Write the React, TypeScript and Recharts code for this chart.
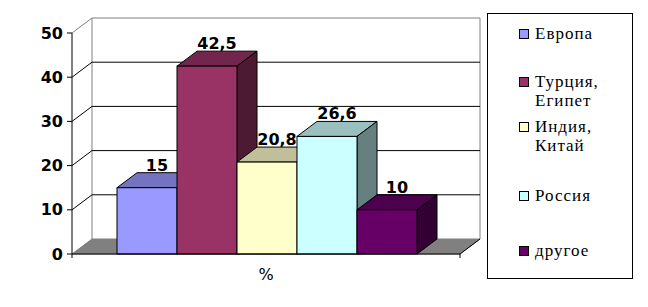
import { BarChart, Bar, XAxis, YAxis, CartesianGrid, LabelList } from 'recharts'

// chart values
const categories = ['%']
const seriesKeys = ['europe', 'turkey', 'india', 'russia', 'other']
const seriesNames = ['Европа', 'Турция, Египет', 'Индия, Китай', 'Россия', 'другое']
const legendLines = [['Европа'], ['Турция,', 'Египет'], ['Индия,', 'Китай'], ['Россия'], ['другое']]
const seriesValues = [15, 42.5, 20.8, 26.6, 10]
const seriesColors = ['#9999FF', '#993366', '#FFFFCC', '#CCFFFF', '#660066']
const yTicks = [0, 10, 20, 30, 40, 50]

const data = categories.map((name) => {
  const row: Record<string, string | number> = { name }
  seriesKeys.forEach((k, i) => (row[k] = seriesValues[i]))
  return row
})

// 3d depth offset
const DX = 20
const DY = 15
const legendTops = [10, 58, 103, 172, 227]

const shade = (hex: string, k: number) => {
  const n = parseInt(hex.slice(1), 16)
  const c = [(n >> 16) & 255, (n >> 8) & 255, n & 255].map((v) => Math.round(v * k))
  return `rgb(${c.join(',')})`
}

function Bar3D(props: any) {
  const { x, y, width, height, fill } = props
  const r = x + width
  const b = y + height
  return (
    <g stroke="#000" strokeWidth={1}>
      <polygon points={`${x},${y} ${x + DX},${y - DY} ${r + DX},${y - DY} ${r},${y}`} fill={shade(fill, 0.75)} />
      <polygon points={`${r},${y} ${r + DX},${y - DY} ${r + DX},${b - DY} ${r},${b}`} fill={shade(fill, 0.5)} />
      <rect x={x} y={y} width={width} height={height} fill={fill} />
    </g>
  )
}

function GridLine(props: any) {
  const { x1, x2, y1, y, height } = props
  const isBottom = Math.abs(y1 - (y + height)) < 0.5
  const isTop = Math.abs(y1 - y) < 0.5
  if (isBottom) {
    return (
      <g>
        <line x1={x1 + DX} y1={y - DY} x2={x1 + DX} y2={y1 - DY} stroke="#808080" />
        <line x1={x2 + DX} y1={y - DY} x2={x2 + DX} y2={y1 - DY} stroke="#808080" />
        <polygon
          points={`${x1},${y1} ${x2},${y1} ${x2 + DX},${y1 - DY} ${x1 + DX},${y1 - DY}`}
          fill="#808080"
          stroke="#808080"
        />
        <line x1={x1} y1={y1} x2={x1} y2={y1 + 4} stroke="#000" />
        <line x1={x2} y1={y1} x2={x2} y2={y1 + 4} stroke="#000" />
        <line x1={x2} y1={y1} x2={x2 + DX} y2={y1 - DY} stroke="#000" />
      </g>
    )
  }
  const stroke = isTop ? '#808080' : '#000'
  return (
    <g>
      <line x1={x1} y1={y1} x2={x1 + DX} y2={y1 - DY} stroke={stroke} />
      <line x1={x1 + DX} y1={y1 - DY} x2={x2 + DX} y2={y1 - DY} stroke={stroke} />
    </g>
  )
}

function CategoryTick(props: any) {
  const { x, payload } = props
  return (
    <text x={x} y={280} textAnchor="middle" fontFamily="DejaVu Sans" fontSize={16} fill="#000">
      {payload.value}
    </text>
  )
}

function ValueLabel(props: any) {
  const { x, y, width, value } = props
  return (
    <text
      x={x + width / 2 + DX / 2}
      y={y - DY - 2}
      textAnchor="middle"
      fontFamily="DejaVu Sans"
      fontWeight="bold"
      fontSize={16}
      fill="#000"
    >
      {String(value).replace('.', ',')}
    </text>
  )
}

export default function App() {
  return (
    <div style={{ position: 'absolute', left: 0, top: 0, width: 648, height: 307, background: '#fff' }}>
      <BarChart
        width={648}
        height={307}
        data={data}
        margin={{ top: 33, right: 188, bottom: 23, left: 0 }}
        barCategoryGap={45}
        barGap={0}
      >
        <CartesianGrid vertical={false} horizontal={GridLine} />
        <XAxis dataKey="name" height={30} axisLine={{ stroke: '#000' }} tickLine={false} tick={<CategoryTick />} />
        <YAxis
          width={72}
          domain={[0, 50]}
          ticks={yTicks}
          interval={0}
          axisLine={{ stroke: '#000' }}
          tickLine={{ stroke: '#000' }}
          tickSize={5}
          tickMargin={4}
          tick={{ fontFamily: 'DejaVu Sans', fontWeight: 'bold', fontSize: 16, fill: '#000' }}
        />
        {seriesKeys.map((k, i) => (
          <Bar key={k} dataKey={k} name={seriesNames[i]} fill={seriesColors[i]} shape={<Bar3D />} isAnimationActive={false}>
            <LabelList dataKey={k} content={<ValueLabel />} />
          </Bar>
        ))}
      </BarChart>
      <div
        style={{
          position: 'absolute',
          left: 487,
          top: 13,
          width: 144,
          height: 264,
          border: '1px solid #000',
          fontFamily: '"Liberation Serif", serif',
          fontSize: 17,
          letterSpacing: 1,
          lineHeight: '19px',
          color: '#000',
        }}
      >
        {seriesNames.map((n, i) => (
          <div key={n} style={{ position: 'absolute', left: 31, top: legendTops[i] }}>
            <div
              style={{
                position: 'absolute',
                left: 0,
                top: 5,
                width: 8,
                height: 8,
                border: '1px solid #000',
                background: seriesColors[i],
              }}
            />
            <div style={{ position: 'absolute', left: 16, top: 0, whiteSpace: 'nowrap' }}>
              {legendLines[i].map((l) => (
                <div key={l}>{l}</div>
              ))}
            </div>
          </div>
        ))}
      </div>
    </div>
  )
}
